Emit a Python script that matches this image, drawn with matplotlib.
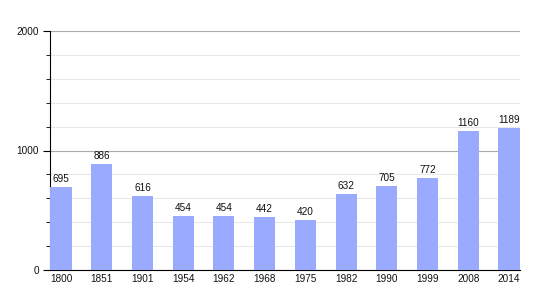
import matplotlib
matplotlib.use("Agg")
import matplotlib.pyplot as plt
from matplotlib.ticker import MultipleLocator

years = ["1800", "1851", "1901", "1954", "1962", "1968", "1975", "1982", "1990", "1999", "2008", "2014"]
population = [695, 886, 616, 454, 454, 442, 420, 632, 705, 772, 1160, 1189]

plt.rcParams['font.family'] = ['Liberation Sans', 'DejaVu Sans']

fig = plt.figure(figsize=(5.5, 3.0), dpi=100)
ax = fig.add_axes([50/550, 1-270/300, 470/550, 239/300])

x = list(range(len(years)))
ax.bar(x, population, width=0.52, color="#99aaff", zorder=3)
for xi, v in zip(x, population):
    ax.text(xi, v + 25, str(v), ha="center", va="bottom", fontsize=7.2, color="#111111", zorder=4)

ax.set_xlim(-0.27, len(years) - 1 + 0.27)
ax.set_ylim(0, 2000)
ax.set_xticks(x)
ax.set_xticklabels(years)
ax.yaxis.set_major_locator(MultipleLocator(1000))
ax.yaxis.set_minor_locator(MultipleLocator(200))
ax.grid(axis="y", which="major", color="#aaaaaa", linewidth=0.8, zorder=1)
ax.grid(axis="y", which="minor", color="#e8e8e8", linewidth=0.8, zorder=1)
for s in ["top", "right"]:
    ax.spines[s].set_visible(False)
ax.spines["left"].set_color("black")
ax.spines["bottom"].set_color("black")
ax.tick_params(axis="x", length=0, labelsize=7.2, pad=3, labelcolor="#111111")
ax.tick_params(axis="y", which="major", length=5, labelsize=7.2, pad=3, labelcolor="#111111")
ax.tick_params(axis="y", which="minor", length=3)

fig.savefig("out.png", dpi=100)
